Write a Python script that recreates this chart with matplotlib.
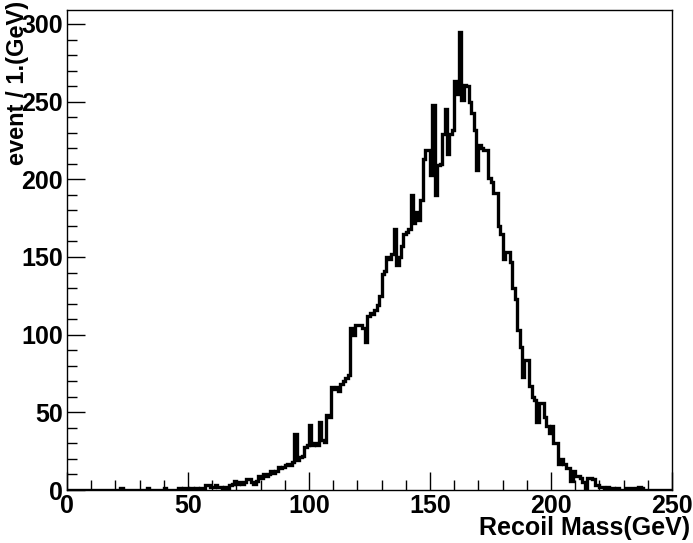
import numpy as np
import matplotlib
matplotlib.use("Agg")
import matplotlib.pyplot as plt
from matplotlib.ticker import MultipleLocator

# ---- data: events per 1 GeV bin, recoil mass 0..250 GeV ----
bin_edges = np.arange(0, 251, 1)
counts = [
    0, 0, 0, 0, 0, 0, 0, 0, 0, 0,            # 0-9
    0, 0, 0, 0, 0, 0, 0, 0, 0, 0,            # 10-19
    0, 0, 1, 0, 0, 0, 0, 0, 0, 0,            # 20-29
    0, 0, 0, 1, 0, 0, 0, 0, 0, 0,            # 30-39
    1, 0, 0, 0, 0, 0, 1, 0, 1, 1,            # 40-49
    0, 1, 0, 1, 0, 1, 1, 3, 3, 2,            # 50-59
    2, 3, 2, 2, 1, 2, 1, 3, 4, 6,            # 60-69
    4, 5, 4, 5, 7, 7, 5, 4, 6, 9,            # 70-79
    8, 10, 9, 10, 12, 11, 12, 15, 14, 15,    # 80-89
    16, 17, 16, 18, 36, 19, 21, 22, 28, 29,  # 90-99
    42, 29, 30, 29, 44, 32, 31, 48, 47, 66,  # 100-109
    65, 66, 64, 68, 70, 72, 74, 104, 100, 106,        # 110-119
    106, 106, 104, 95, 112, 114, 113, 116, 119, 125,  # 120-129
    139, 141, 150, 149, 152, 168, 145, 150, 157, 165, # 130-139
    166, 168, 190, 172, 179, 174, 187, 213, 219, 219, # 140-149
    203, 248, 190, 209, 210, 229, 245, 216, 229, 232, # 150-159
    263, 255, 295, 251, 261, 260, 250, 243, 232, 206, # 160-169
    222, 220, 219, 219, 201, 198, 191, 191, 170, 165, # 170-179
    149, 153, 153, 147, 130, 123, 103, 92, 73, 84,    # 180-189
    84, 67, 60, 58, 44, 56, 56, 47, 41, 37,  # 190-199
    41, 30, 30, 17, 20, 17, 14, 14, 6, 12,   # 200-209
    9, 9, 8, 5, 1, 8, 8, 7, 3, 3,            # 210-219
    2, 2, 1, 2, 1, 1, 0, 1, 0, 0,            # 220-229
    0, 1, 1, 1, 0, 1, 2, 1, 0, 0,            # 230-239
    0, 0, 0, 0, 0, 0, 0, 0, 0, 0,            # 240-249
]

x_label = "Recoil Mass(GeV)"
y_label = "event / 1.(GeV)"

plt.rcParams['font.family'] = ['Liberation Sans', 'DejaVu Sans']
plt.rcParams['font.weight'] = 'bold'

fig = plt.figure(figsize=(6.93, 5.43), dpi=100)
ax = fig.add_axes([0.0967, 0.0976, 0.8730, 0.8840])

ax.stairs(counts, bin_edges, color='black', linewidth=2.4, baseline=0)

ax.set_xlim(0, 250)
ax.set_ylim(0, 309)

ax.xaxis.set_major_locator(MultipleLocator(50))
ax.xaxis.set_minor_locator(MultipleLocator(10))
ax.yaxis.set_major_locator(MultipleLocator(50))
ax.yaxis.set_minor_locator(MultipleLocator(10))

ax.tick_params(which='both', direction='in', top=False, right=False,
               width=1.0, labelsize=18)
ax.tick_params(which='major', length=13)
ax.tick_params(which='minor', length=7)
ax.tick_params(axis='x', pad=3)
ax.tick_params(axis='y', pad=3)
for lab in ax.get_xticklabels() + ax.get_yticklabels():
    lab.set_fontweight('bold')

for s in ax.spines.values():
    s.set_linewidth(1.0)

ax.set_xlabel(x_label, fontsize=18, fontweight='bold', loc='right')
ax.xaxis.set_label_coords(1.03, -0.055)
ax.xaxis.label.set_va('top')
# the label overlaps the top tick labels in the original too
ax.set_ylabel(y_label, fontsize=17, fontweight='bold', loc='top')
ax.yaxis.set_label_coords(-0.063, 1.018)

fig.savefig("out.png", dpi=100)
